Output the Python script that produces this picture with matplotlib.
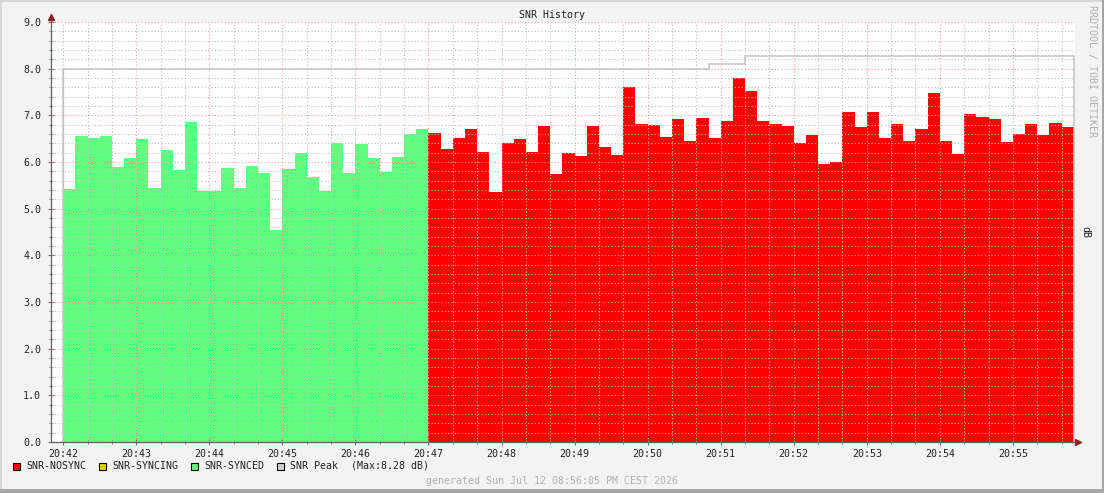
import matplotlib
matplotlib.use("Agg")
import matplotlib.pyplot as plt
from matplotlib.patches import Rectangle
from matplotlib.ticker import MultipleLocator, FuncFormatter
import numpy as np

# 10 second samples, seconds counted from 20:42:00
step = 10
snr_synced = [5.43, 6.56, 6.52, 6.55, 5.90, 6.09, 6.50, 5.45, 6.26, 5.82,
              6.86, 5.38, 5.38, 5.88, 5.45, 5.92, 5.77, 4.55, 5.84, 6.20,
              5.67, 5.38, 6.41, 5.77, 6.39, 6.09, 5.79, 6.11, 6.60, 6.71]
snr_nosync = [6.63, 6.27, 6.52, 6.70, 6.22, 5.35, 6.40, 6.50, 6.22, 6.78,
              5.75, 6.20, 6.12, 6.78, 6.33, 6.16, 7.60, 6.82, 6.80, 6.54,
              6.93, 6.45, 6.95, 6.52, 6.87, 7.79, 7.53, 6.87, 6.82, 6.78,
              6.40, 6.57, 5.95, 6.01, 7.08, 6.74, 7.08, 6.52, 6.82, 6.46,
              6.71, 7.47, 6.46, 6.18, 7.02, 6.97, 6.93, 6.42, 6.59, 6.82,
              6.57, 6.84, 6.74]
peak_edges = [0, 530, 560, 830]
peak_levels = [8.0, 8.11, 8.28]

tick_labels = ["20:42", "20:43", "20:44", "20:45", "20:46", "20:47", "20:48",
               "20:49", "20:50", "20:51", "20:52", "20:53", "20:54", "20:55"]

legend_labels = ["SNR-NOSYNC", "SNR-SYNCING", "SNR-SYNCED", "SNR Peak"]
legend_colors = ["#ff0000", "#e0d000", "#60ff80", "#d0d0d0"]
peak_note = "(Max:8.28 dB)"
title = "SNR History"
footer = "generated Sun Jul 12 08:56:05 PM CEST 2026"

W, H = 1104, 493
FS = 7.2
plt.rcParams["font.family"] = "DejaVu Sans Mono"

fig = plt.figure(figsize=(W / 100, H / 100), dpi=100, facecolor="#f3f3f3")

def px(x, y):
    return x / W, 1 - y / H

def band(x, y, w, h, color):
    fig.patches.append(Rectangle(px(x, y + h), w / W, h / H, transform=fig.transFigure,
                                 facecolor=color, edgecolor="none"))

# shaded frame
band(0, 0, W, 2, "#d6d6d6")
band(0, 0, 2, H, "#d6d6d6")
band(W - 2, 0, 2, H, "#a6a6a6")
band(0, H - 4, W, 4, "#a6a6a6")

left, right, top, bottom = 51, 1075, 22, 442
ax = fig.add_axes([left / W, 1 - bottom / H, (right - left) / W, (bottom - top) / H])
ax.set_facecolor("white")

n_g = len(snr_synced)
edges_g = np.arange(n_g + 1) * step
edges_r = (n_g + np.arange(len(snr_nosync) + 1)) * step

ax.stairs(snr_synced, edges_g, fill=True, color="#60ff80", zorder=1)
ax.stairs(snr_nosync, edges_r, fill=True, color="#ff0000", zorder=1)

xmin, xmax = -10, 831
ax.set_xlim(xmin, xmax)
ax.set_ylim(0, 9)

# dotted grid drawn on top of the areas, rrdtool style
dots = dict(linestyle=(0, (1, 2)), linewidth=0.8, zorder=2)
xs_minor = [t for t in range(0, xmax, 20) if t % 60]
xs_major = list(range(0, xmax, 60))
ys_minor = [v / 5 for v in range(1, 45) if v % 5]
ys_major = list(range(1, 10))
ax.vlines(xs_minor, 0, 9, color="#bcbcbc", **dots)
ax.hlines(ys_minor, xmin, xmax, color="#bcbcbc", **dots)
ax.vlines(xs_major, 0, 9, color="#ee9a9a", **dots)
ax.hlines(ys_major, xmin, xmax, color="#ee9a9a", **dots)

ax.stairs(peak_levels, peak_edges, color="#c4c4c4", linewidth=1.1, zorder=3)
ax.vlines(peak_edges[0], 0, peak_levels[0], color="#c4c4c4", linewidth=0.9, zorder=3)

ax.set_xticks(np.arange(len(tick_labels)) * 60)
ax.set_xticklabels(tick_labels)
ax.xaxis.set_minor_locator(MultipleLocator(20))
ax.yaxis.set_major_locator(MultipleLocator(1))
ax.yaxis.set_minor_locator(MultipleLocator(0.2))
ax.yaxis.set_major_formatter(FuncFormatter(lambda v, p: f"{v:.1f}"))

ax.tick_params(which="both", direction="inout", color="#707070", labelsize=FS,
               labelcolor="#222222")
ax.tick_params(which="major", length=4, width=0.8)
ax.tick_params(which="minor", length=3, width=0.6)
ax.tick_params(axis="y", pad=5)
ax.tick_params(axis="x", pad=3)

for s in ("top", "right"):
    ax.spines[s].set_visible(False)
for s in ("left", "bottom"):
    ax.spines[s].set_color("#606060")
    ax.spines[s].set_linewidth(0.9)
    ax.spines[s].set_zorder(4)

# axis arrows
ax.plot([0, 0], [1, 1.012], transform=ax.transAxes, color="#606060", lw=0.9, clip_on=False)
ax.plot([0], [1.012], marker="^", markersize=4, color="#902020", transform=ax.transAxes, clip_on=False)
ax.plot([1, 1.003], [0, 0], transform=ax.transAxes, color="#606060", lw=0.9, clip_on=False)
ax.plot([1.003], [0], marker=">", markersize=4, color="#902020", transform=ax.transAxes, clip_on=False)

fig.text(*px(552, 15), title, ha="center", va="center", fontsize=FS, color="#222222")
fig.text(*px(1085, 232), "dB", ha="center", va="center", rotation=270, fontsize=FS, color="#222222")
fig.text(*px(1092, 5), "RRDTOOL / TOBI OETIKER", ha="center", va="top", rotation=270,
         fontsize=FS, color="#b0b0b0")

legend_x = [13, 99, 191, 277]
for label, color, lx in zip(legend_labels, legend_colors, legend_x):
    fig.patches.append(Rectangle(px(lx, 470), 7 / W, 7 / H, transform=fig.transFigure,
                                 facecolor=color, edgecolor="black", linewidth=0.8))
    fig.text(*px(lx + 13, 466), label, ha="left", va="center", fontsize=FS, color="#222222")
fig.text(*px(351, 466), peak_note, ha="left", va="center", fontsize=FS, color="#222222")

fig.text(*px(552, 481), footer, ha="center", va="center", fontsize=FS, color="#b0b0b0")

fig.savefig("out.png", dpi=100, facecolor=fig.get_facecolor())
